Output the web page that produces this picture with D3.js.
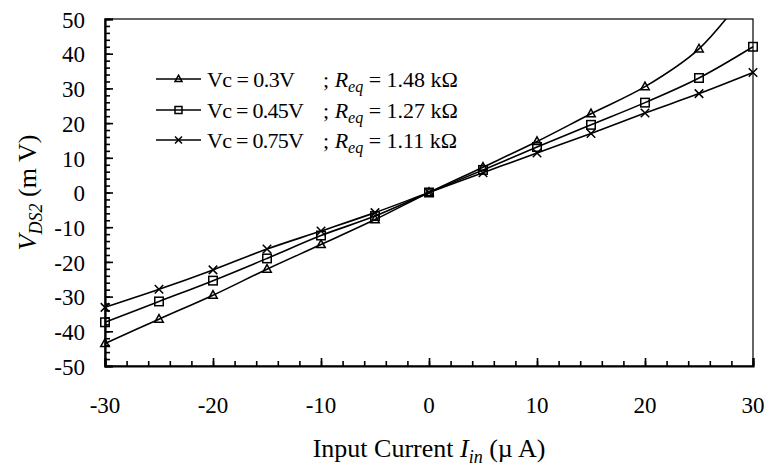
<!DOCTYPE html>
<html>
<head>
<meta charset="utf-8">
<script src="https://cdn.jsdelivr.net/npm/d3@7"></script>
<style>
  body { margin: 0; background: #fff; }
  svg { display: block; font-family: "Liberation Serif", "Times New Roman", serif; }
</style>
</head>
<body>
<div id="chart"></div>
<script>
// Input current (uA)
const current = [-30, -25, -20, -15, -10, -5, 0, 5, 10, 15, 20, 25, 30];
// V_DS2 (mV) for each control voltage
const vc030 = [-43.5, -36.5, -29.6, -22.1, -15.0, -7.8, 0, 7.3, 14.7, 22.7, 30.5, 41.4, 60];
const vc045 = [-37.4, -31.4, -25.4, -19.0, -12.4, -6.8, 0, 6.5, 13.1, 19.5, 25.9, 33.0, 42.0];
const vc075 = [-33.1, -27.9, -22.3, -16.3, -11.1, -5.8, 0, 5.7, 11.4, 17.0, 22.9, 28.5, 34.6];

const seriesNames = ['Vc = 0.3V', 'Vc = 0.45V', 'Vc = 0.75V'];
const reqLabels = ['1.48 k\u03A9', '1.27 k\u03A9', '1.11 k\u03A9'];
const markers = ['triangle', 'square', 'cross'];

const xTicks = [-30, -20, -10, 0, 10, 20, 30];
const yTicks = [-50, -40, -30, -20, -10, 0, 10, 20, 30, 40, 50];

const width = 768, height = 466;
const margin = { top: 19, right: 15, bottom: 100, left: 105 };

const svg = d3.select('#chart').append('svg')
  .attr('width', width)
  .attr('height', height);

const x = d3.scaleLinear().domain([-30, 30]).range([margin.left, width - margin.right]);
const y = d3.scaleLinear().domain([-50, 50]).range([height - margin.bottom, margin.top]);

svg.append('defs').append('clipPath').attr('id', 'plot-clip')
  .append('rect')
  .attr('x', x(-30) - 6).attr('y', y(50))
  .attr('width', x(30) - x(-30) + 12).attr('height', y(-50) - y(50));

// frame
svg.append('rect')
  .attr('x', x(-30)).attr('y', y(50))
  .attr('width', x(30) - x(-30)).attr('height', y(-50) - y(50))
  .attr('fill', 'none').attr('stroke', '#000').attr('stroke-width', 1.2);

// axes with inward ticks
const yMinor = d3.range(-50, 51, 2);
const xMinor = d3.range(-30, 31, 2);

svg.append('g')
  .attr('transform', `translate(${x(-30)},0)`)
  .call(d3.axisRight(y).tickValues(yMinor).tickSize(5).tickFormat(''))
  .call(g => g.select('.domain').remove());
svg.append('g')
  .attr('transform', `translate(${x(-30)},0)`)
  .call(d3.axisRight(y).tickValues(yTicks).tickSize(8).tickFormat(''))
  .call(g => g.select('.domain').attr('stroke-width', 2.2));

svg.append('g')
  .attr('transform', `translate(0,${y(-50)})`)
  .call(d3.axisTop(x).tickValues(xMinor).tickSize(5).tickFormat(''))
  .call(g => g.select('.domain').remove());
svg.append('g')
  .attr('transform', `translate(0,${y(-50)})`)
  .call(d3.axisTop(x).tickValues(xTicks).tickSize(8).tickFormat(''))
  .call(g => g.select('.domain').attr('stroke-width', 2.2));

svg.selectAll('.tick line').attr('stroke-width', 1.6);

// tick labels
svg.append('g').selectAll('text')
  .data(yTicks)
  .join('text')
  .attr('x', 85)
  .attr('y', d => y(d))
  .attr('dy', '0.38em')
  .attr('text-anchor', 'end')
  .style('font-size', '23px')
  .text(d => d);

svg.append('g').selectAll('text')
  .data(xTicks)
  .join('text')
  .attr('x', d => x(d))
  .attr('y', 413)
  .attr('text-anchor', 'middle')
  .style('font-size', '23px')
  .text(d => d);

// axis titles
const xt = svg.append('text')
  .attr('x', x(0))
  .attr('y', 457)
  .attr('text-anchor', 'middle')
  .style('font-size', '26px');
xt.append('tspan').text('Input Current ');
xt.append('tspan').attr('font-style', 'italic').text('I');
xt.append('tspan').attr('font-style', 'italic').attr('font-size', '18px').attr('dy', 6).text('in');
xt.append('tspan').attr('dy', -6).text(' (\u00B5 A)');

const yt = svg.append('text')
  .attr('transform', `translate(36,${y(0)}) rotate(-90)`)
  .attr('text-anchor', 'middle')
  .style('font-size', '26px');
yt.append('tspan').attr('font-style', 'italic').text('V');
yt.append('tspan').attr('font-style', 'italic').attr('font-size', '18px').attr('dy', 6).text('DS2');
yt.append('tspan').attr('dy', -6).text(' (m V)');

// series
const series = [vc030, vc045, vc075].map((vals, i) => ({
  name: seriesNames[i],
  marker: markers[i],
  points: current.map((c, j) => ({ x: c, y: vals[j] }))
}));

const line = d3.line()
  .x(d => x(d.x))
  .y(d => y(d.y))
  .curve(d3.curveCatmullRom.alpha(0.5));

const drawMarker = (g, type, size) => {
  if (type === 'triangle') {
    const h = size * 0.9;
    g.append('path')
      .attr('d', `M0,${-h * 0.6}L${size / 2},${h * 0.4}L${-size / 2},${h * 0.4}Z`)
      .attr('fill', 'none').attr('stroke', '#000').attr('stroke-width', 1.5);
  } else if (type === 'square') {
    g.append('rect')
      .attr('x', -size / 2).attr('y', -size / 2)
      .attr('width', size).attr('height', size)
      .attr('fill', 'none').attr('stroke', '#000').attr('stroke-width', 1.5);
  } else {
    const s = size / 2;
    g.append('path')
      .attr('d', `M${-s},${-s}L${s},${s}M${s},${-s}L${-s},${s}`)
      .attr('fill', 'none').attr('stroke', '#000').attr('stroke-width', 1.5);
  }
};

const plot = svg.append('g').attr('clip-path', 'url(#plot-clip)');

series.forEach(s => {
  plot.append('path')
    .datum(s.points)
    .attr('fill', 'none')
    .attr('stroke', '#000')
    .attr('stroke-width', 1.6)
    .attr('d', line);
  s.points.forEach(p => {
    const g = plot.append('g').attr('transform', `translate(${x(p.x)},${y(p.y)})`);
    drawMarker(g, s.marker, 8.5);
  });
});

// legend
const legendRows = [79, 110, 140];
series.forEach((s, i) => {
  const ly = legendRows[i];
  svg.append('line')
    .attr('x1', 156).attr('x2', 201)
    .attr('y1', ly).attr('y2', ly)
    .attr('stroke', '#000').attr('stroke-width', 1.6);
  drawMarker(svg.append('g').attr('transform', `translate(178.5,${ly})`), s.marker, 7);
  svg.append('text')
    .attr('x', 207).attr('y', ly).attr('dy', '0.35em')
    .style('font-size', '22px')
    .attr('textLength', i === 0 ? 88 : 97)
    .text(s.name);
  const t = svg.append('text')
    .attr('x', 323).attr('y', ly).attr('dy', '0.35em')
    .style('font-size', '22px');
  t.append('tspan').text('; ');
  t.append('tspan').attr('font-style', 'italic').text('R');
  t.append('tspan').attr('font-style', 'italic').attr('font-size', '16px').attr('dy', 5).text('eq');
  t.append('tspan').attr('dy', -5).text(' = ' + reqLabels[i]);
});
</script>
</body>
</html>
